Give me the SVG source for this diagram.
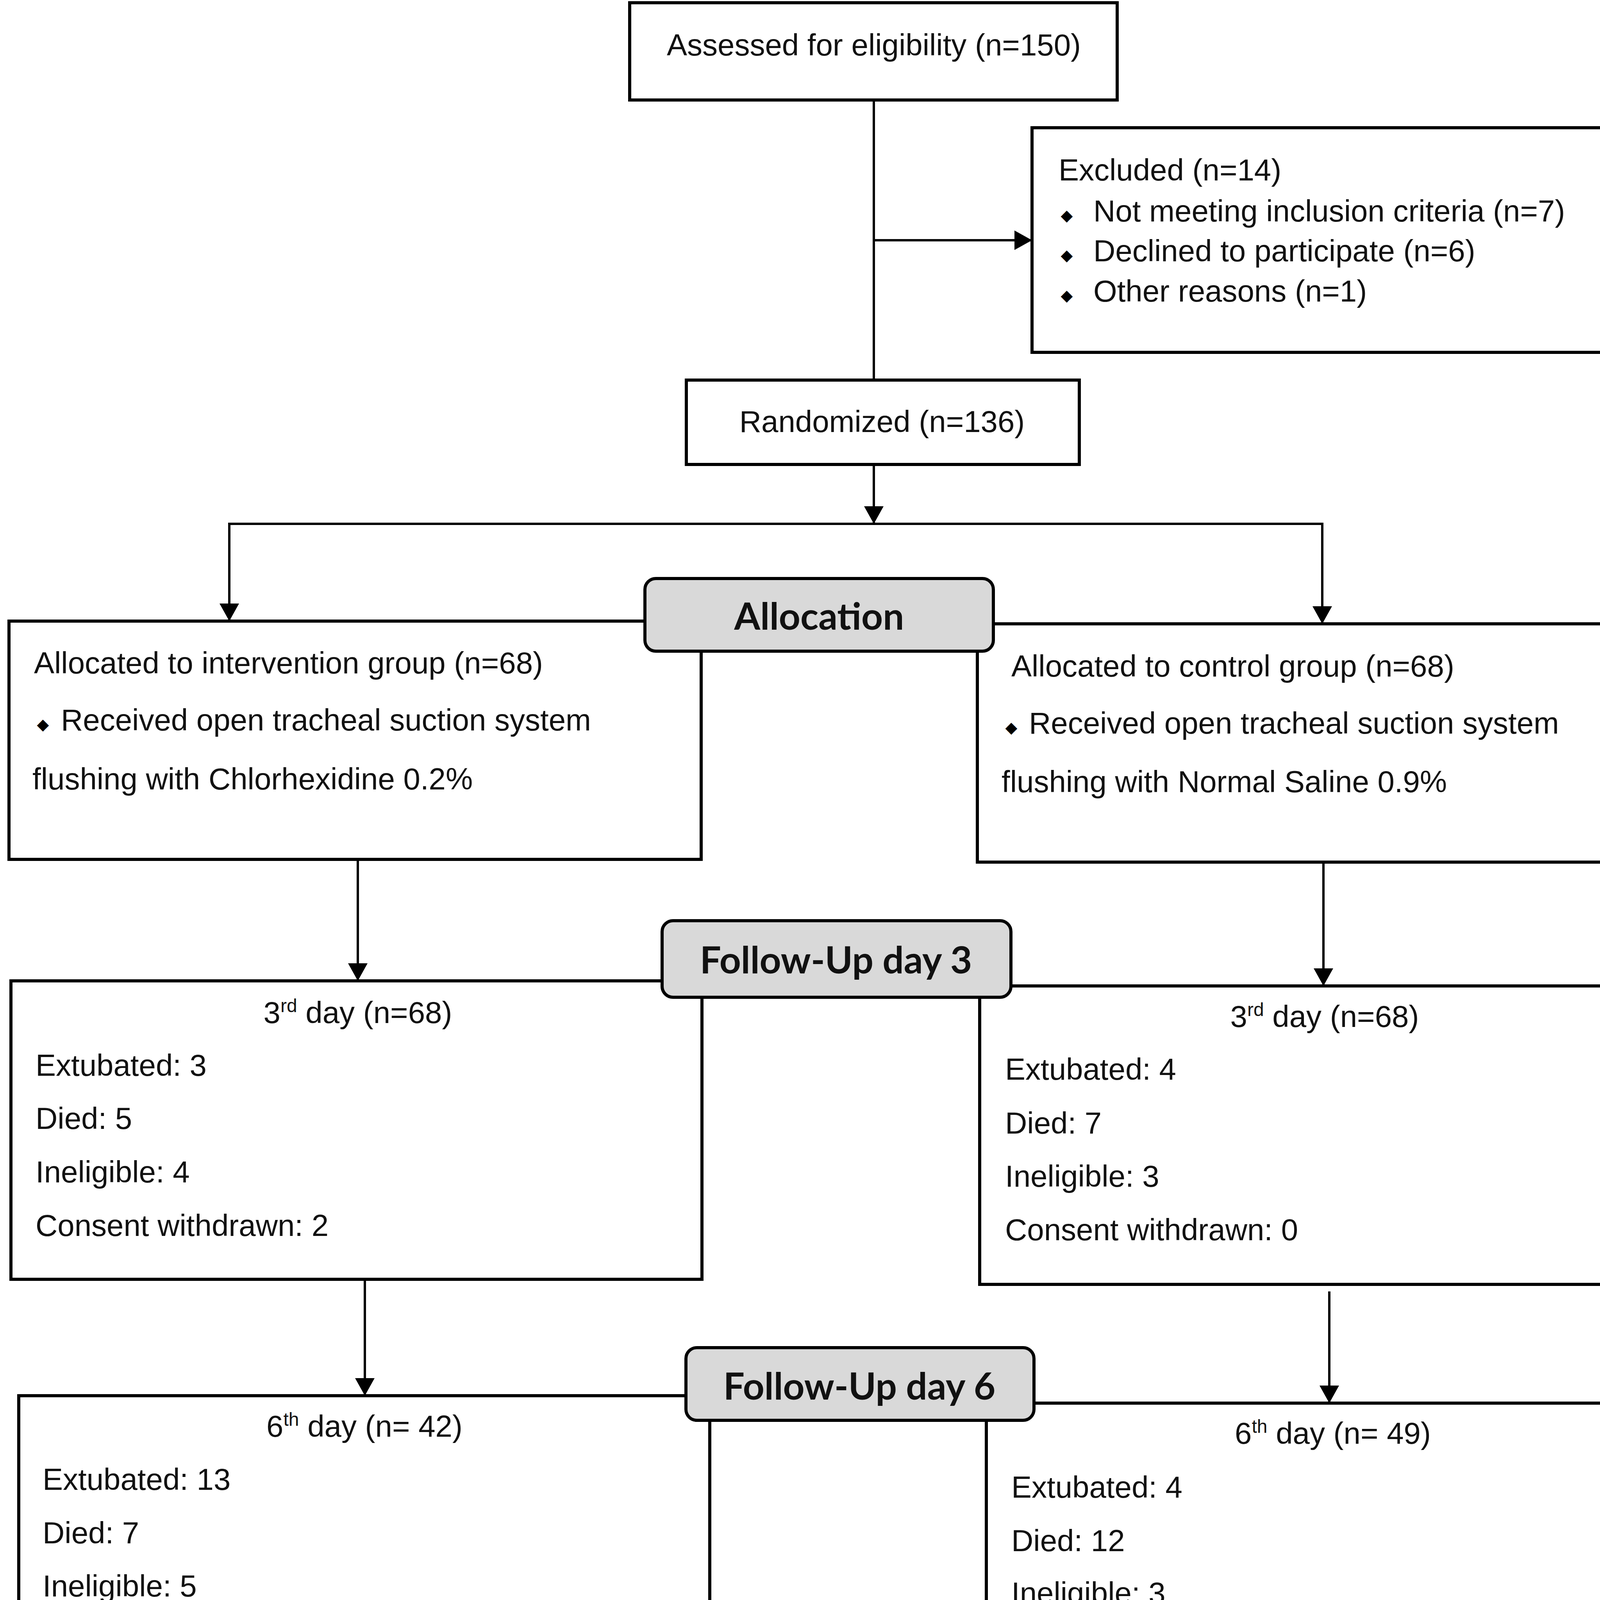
<svg xmlns="http://www.w3.org/2000/svg" width="4307" height="4377" viewBox="0 0 4307 4377">
<defs>
<marker id="arr" markerUnits="userSpaceOnUse" markerWidth="46" markerHeight="50" refX="45" refY="25" orient="auto">
<path d="M0,0 L45,25 L0,50 z" fill="#000"/>
</marker>
</defs>
<style>
.box{fill:#fff;stroke:#000;stroke-width:8}
.lbl{fill:#d9d9d9;stroke:#000;stroke-width:8}
.t{font-family:"Liberation Sans",Arial,sans-serif;font-size:78px;fill:#111}
.m{text-anchor:middle}
.h{font-family:Lato,"Liberation Sans",sans-serif;font-weight:bold;font-size:96px;fill:#111;text-anchor:middle}
.b{font-family:"DejaVu Sans",sans-serif;font-size:40px;fill:#000;text-anchor:middle}
.c{fill:none;stroke:#000;stroke-width:6}
.sup{font-size:48px}
</style>
<rect width="4307" height="4377" fill="#fff"/>
<g id="connectors">
<line class="c" x1="2237" y1="256" x2="2237" y2="973"/>
<line class="c" x1="2237" y1="615" x2="2642" y2="615" marker-end="url(#arr)"/>
<line class="c" x1="2237" y1="1189" x2="2237" y2="1341" marker-end="url(#arr)"/>
<line class="c" x1="584" y1="1341" x2="3388" y2="1341"/>
<line class="c" x1="587" y1="1341" x2="587" y2="1590" marker-end="url(#arr)"/>
<line class="c" x1="3385" y1="1341" x2="3385" y2="1597" marker-end="url(#arr)"/>
<line class="c" x1="916" y1="2200" x2="916" y2="2511" marker-end="url(#arr)"/>
<line class="c" x1="3388" y1="2207" x2="3388" y2="2524" marker-end="url(#arr)"/>
<line class="c" x1="934" y1="3275" x2="934" y2="3573" marker-end="url(#arr)"/>
<line class="c" x1="3403" y1="3306" x2="3403" y2="3592" marker-end="url(#arr)"/>
</g>
<g id="assessed">
<rect class="box" x="1612" y="7" width="1248" height="249"/>
<text class="t m" x="2237" y="142">Assessed for eligibility (n=150)</text>
</g>
<g id="excluded">
<rect class="box" x="2642" y="327" width="1533" height="575"/>
<text class="t" x="2710" y="462">Excluded (n=14)</text>
<text class="b" x="2731" y="565">◆</text>
<text class="t" x="2799" y="567">Not meeting inclusion criteria (n=7)</text>
<text class="b" x="2731" y="667">◆</text>
<text class="t" x="2799" y="669">Declined to participate (n=6)</text>
<text class="b" x="2731" y="770">◆</text>
<text class="t" x="2799" y="772">Other reasons (n=1)</text>
</g>
<g id="randomized">
<rect class="box" x="1757" y="973" width="1006" height="216"/>
<text class="t m" x="2258" y="1106">Randomized (n=136)</text>
</g>
<g id="intervention">
<rect class="box" x="23" y="1590" width="1772" height="610"/>
<text class="t" x="87" y="1724">Allocated to intervention group (n=68)</text>
<text class="b" x="110" y="1868">◆</text>
<text class="t" x="156" y="1870">Received open tracheal suction system</text>
<text class="t" x="83" y="2021">flushing with Chlorhexidine 0.2%</text>
</g>
<g id="control">
<rect class="box" x="2502" y="1597" width="1769" height="610"/>
<text class="t" x="2589" y="1732">Allocated to control group (n=68)</text>
<text class="b" x="2589" y="1876">◆</text>
<text class="t" x="2634" y="1878">Received open tracheal suction system</text>
<text class="t" x="2564" y="2028">flushing with Normal Saline 0.9%</text>
</g>
<g id="allocation">
<rect class="lbl" x="1651" y="1481" width="892" height="186" rx="28"/>
<text class="h" x="2097" y="1612">Allocation</text>
</g>
<g id="day3-intervention">
<rect class="box" x="28" y="2511" width="1769" height="764"/>
<text class="t m" x="916" y="2619">3<tspan class="sup" dy="-28">rd</tspan><tspan dy="28"> day (n=68)</tspan></text>
<text class="t" x="91" y="2754">Extubated: 3</text>
<text class="t" x="91" y="2890">Died: 5</text>
<text class="t" x="91" y="3027">Ineligible: 4</text>
<text class="t" x="91" y="3164">Consent withdrawn: 2</text>
</g>
<g id="day3-control">
<rect class="box" x="2508" y="2524" width="1770" height="764"/>
<text class="t m" x="3391" y="2629">3<tspan class="sup" dy="-28">rd</tspan><tspan dy="28"> day (n=68)</tspan></text>
<text class="t" x="2573" y="2764">Extubated: 4</text>
<text class="t" x="2573" y="2902">Died: 7</text>
<text class="t" x="2573" y="3038">Ineligible: 3</text>
<text class="t" x="2573" y="3175">Consent withdrawn: 0</text>
</g>
<g id="followup3">
<rect class="lbl" x="1695" y="2357" width="893" height="196" rx="28"/>
<text class="h" x="2140" y="2492">Follow-Up day 3</text>
</g>
<g id="day6-intervention">
<rect class="box" x="48" y="3573" width="1769" height="765"/>
<text class="t m" x="933" y="3678">6<tspan class="sup" dy="-28">th</tspan><tspan dy="28"> day (n= 42)</tspan></text>
<text class="t" x="109" y="3814">Extubated: 13</text>
<text class="t" x="109" y="3951">Died: 7</text>
<text class="t" x="109" y="4087">Ineligible: 5</text>
<text class="t" x="109" y="4224">Consent withdrawn: 1</text>
</g>
<g id="day6-control">
<rect class="box" x="2525" y="3592" width="1771" height="765"/>
<text class="t m" x="3412" y="3696">6<tspan class="sup" dy="-28">th</tspan><tspan dy="28"> day (n= 49)</tspan></text>
<text class="t" x="2589" y="3834">Extubated: 4</text>
<text class="t" x="2589" y="3971">Died: 12</text>
<text class="t" x="2589" y="4105">Ineligible: 3</text>
<text class="t" x="2589" y="4241">Consent withdrawn: 0</text>
</g>
<g id="followup6">
<rect class="lbl" x="1756" y="3450" width="891" height="186" rx="28"/>
<text class="h" x="2200" y="3583">Follow-Up day 6</text>
</g>
</svg>
